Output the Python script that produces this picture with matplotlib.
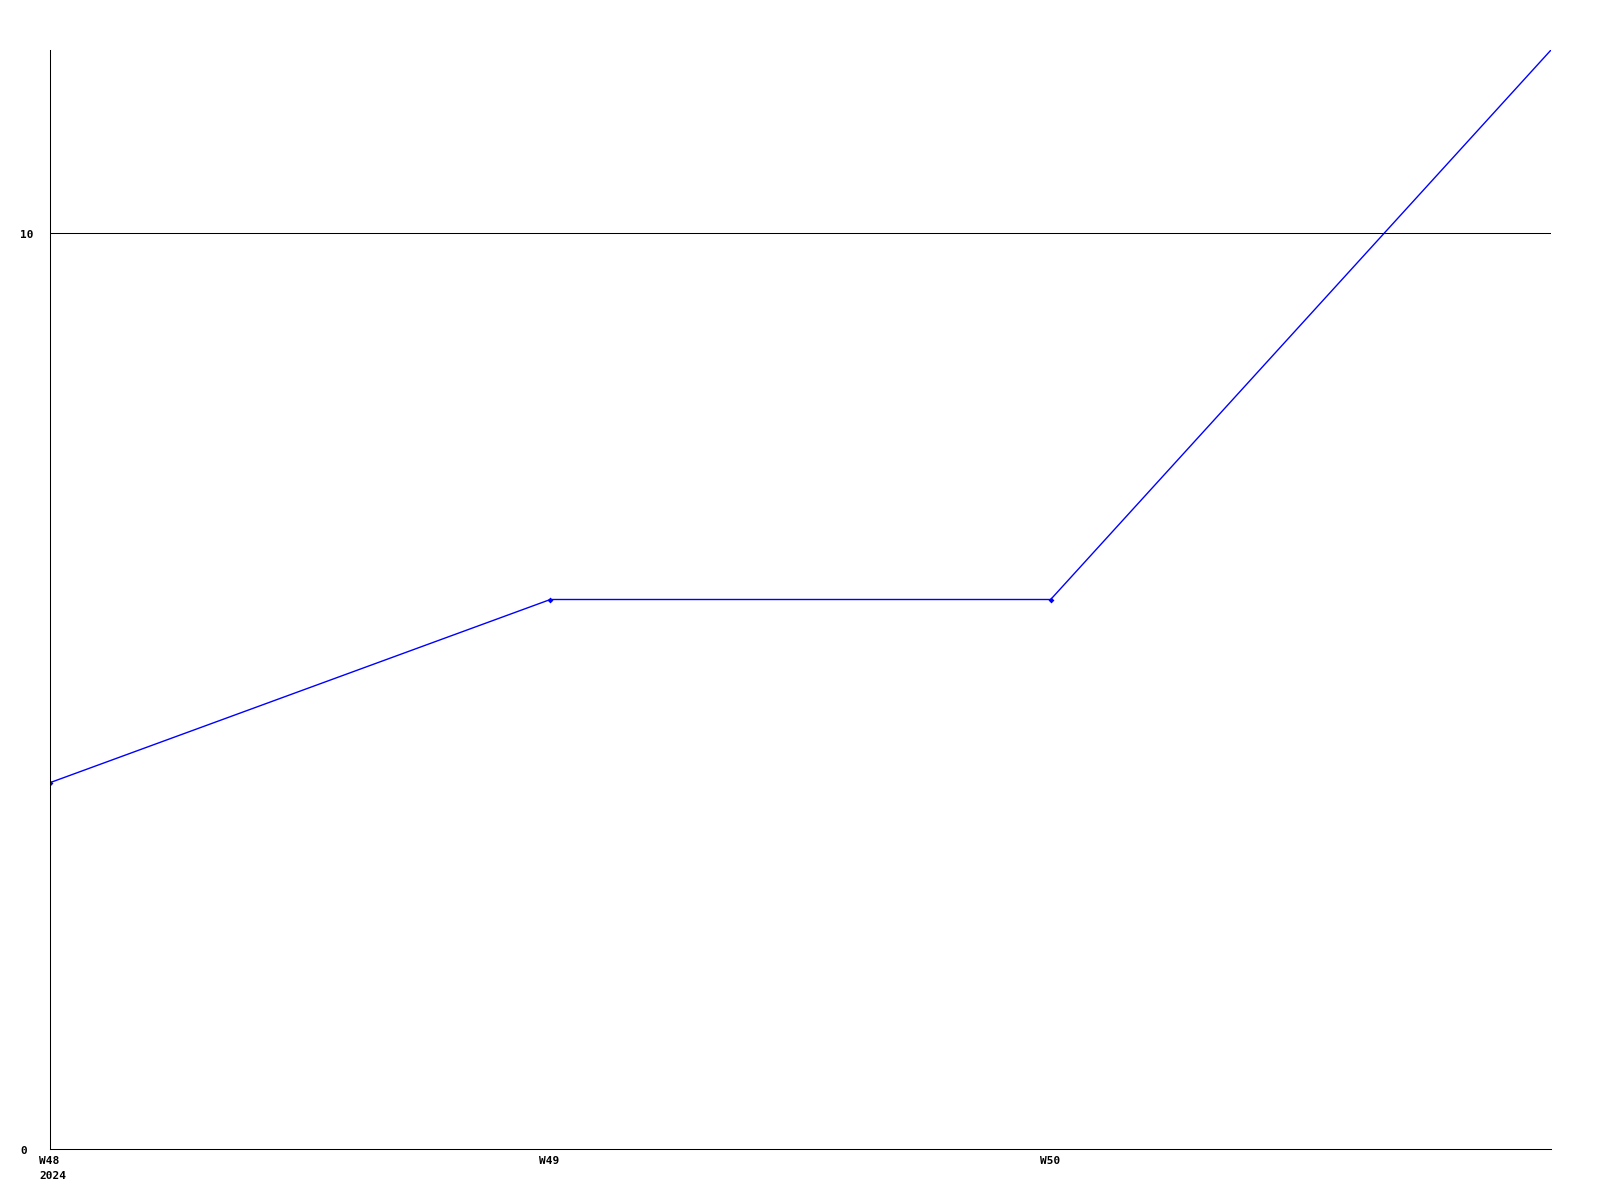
import matplotlib.pyplot as plt
import matplotlib.transforms as mtransforms

# weekly values
weeks = [48, 49, 50, 51]
values = [4, 6, 6, 12]
week_labels = ["W48\n2024", "W49", "W50"]
y_ticks = [0, 10]

fig = plt.figure(figsize=(16, 12), dpi=100)
ax = fig.add_axes([50 / 1600, 51 / 1200, 1501 / 1600, 1099 / 1200])

# last point sits on the top edge, its marker is not drawn there
ax.plot(weeks, values, color="#0000ff", linewidth=1.0,
        marker="D", markersize=3, markeredgewidth=0, markevery=[0, 1, 2])

ax.set_xlim(48, 51)
ax.set_ylim(0, 12)

# only the 10 line shows
for yv in y_ticks[1:]:
    ax.axhline(yv, color="black", linewidth=0.75)

for s in ["top", "right"]:
    ax.spines[s].set_visible(False)
for s in ["left", "bottom"]:
    ax.spines[s].set_linewidth(0.75)
    ax.spines[s].set_color("black")

ax.set_xticks([])
ax.set_yticks([])

font = dict(family="DejaVu Sans Mono", weight="bold", size=8)

# x labels, left aligned a bit before the tick
offx = mtransforms.ScaledTranslation(-11 / 100, -7 / 100, fig.dpi_scale_trans)
for w, lab in zip(weeks, week_labels):
    ax.text(w, 0, lab, transform=ax.transData + offx, ha="left", va="top",
            linespacing=1.6, **font)

# y labels, left aligned at the figure edge
offy = mtransforms.ScaledTranslation(0, -2 / 100, fig.dpi_scale_trans)
ytrans = mtransforms.blended_transform_factory(fig.transFigure, ax.transData) + offy
for yv in y_ticks:
    ax.text(20 / 1600, yv, str(yv), transform=ytrans, ha="left", va="center", **font)

fig.savefig("out.png", dpi=100)
